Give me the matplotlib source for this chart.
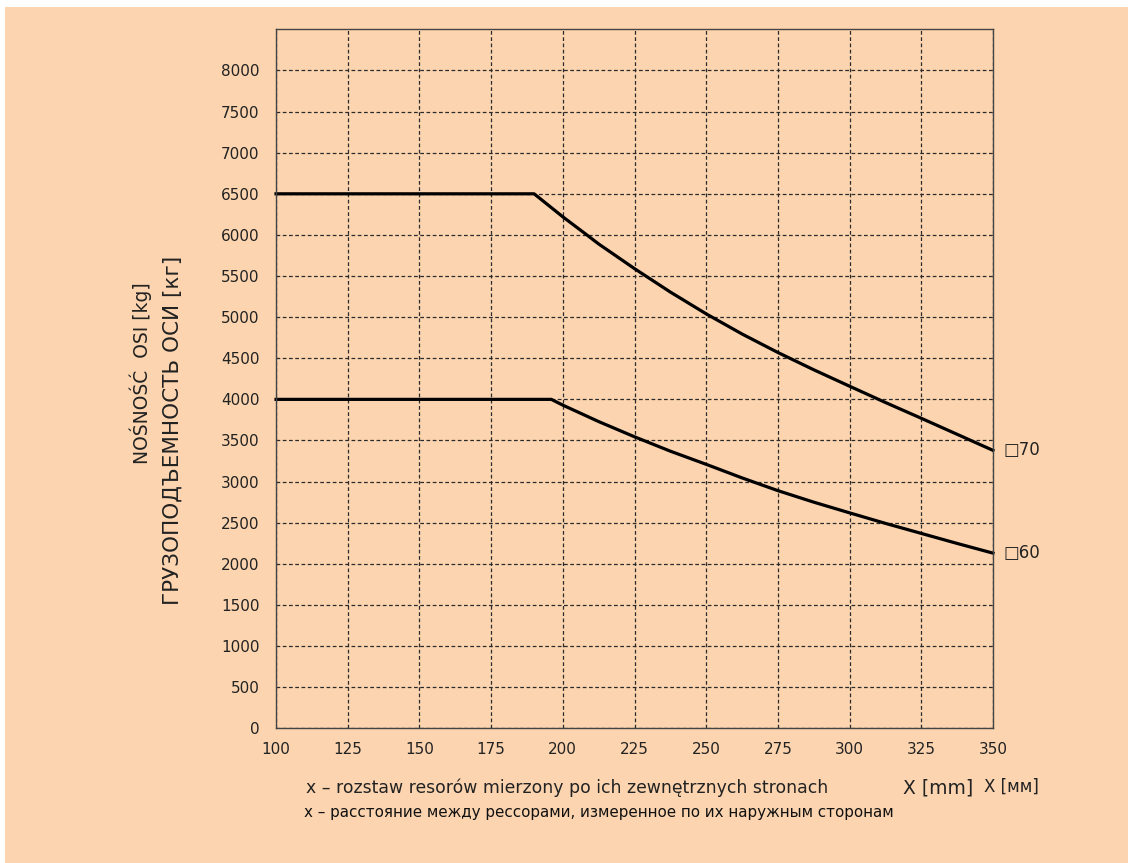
import matplotlib
matplotlib.use("Agg")
from matplotlib import pyplot as plt
from matplotlib.patches import Rectangle

# upper curve (70)
x70 = [100, 190, 200, 208, 212.5, 225, 237.5, 250, 262.5, 275, 287.5, 300, 312.5, 325, 337.5, 350]
y70 = [6500, 6500, 6220, 6010, 5890, 5590, 5305, 5040, 4795, 4570, 4360, 4160, 3962, 3770, 3575, 3380]

# lower curve (60)
x60 = [100, 196, 200, 212.5, 225, 237.5, 250, 262.5, 275, 287.5, 300, 312.5, 325, 337.5, 350]
y60 = [4000, 4000, 3930, 3730, 3545, 3370, 3210, 3045, 2890, 2750, 2620, 2492, 2370, 2248, 2130]

xticks = list(range(100, 351, 25))
yticks = list(range(0, 8001, 500))
labels = ["\u25a170", "\u25a160"]

bg = "#fcd5b0"
txt = "#222222"

fig = plt.figure(figsize=(11.28, 8.63), dpi=100)
fig.patch.set_facecolor("white")
fig.patches.append(Rectangle((5 / 1128, 0), 1, 1 - 7 / 863, transform=fig.transFigure,
                             facecolor=bg, edgecolor="none", zorder=-10))

ax = fig.add_axes([0.2447, 0.1561, 0.8803 - 0.2447, 0.966 - 0.1561])
ax.set_facecolor(bg)
ax.set_xlim(100, 350)
ax.set_ylim(0, 8500)
ax.set_xticks(xticks)
ax.set_yticks(yticks)
ax.tick_params(length=0, labelsize=11, labelcolor=txt)
ax.tick_params(axis="y", pad=12)
ax.tick_params(axis="x", pad=10)
ax.grid(True, color="#2a2a2a", linestyle=(0, (3, 2)), linewidth=0.9)
ax.set_axisbelow(True)
for s in ax.spines.values():
  s.set_color("#444444")
  s.set_linewidth(1.0)

ax.plot(x70, y70, color="black", lw=2.3, clip_on=False, solid_joinstyle="round")
ax.plot(x60, y60, color="black", lw=2.3, clip_on=False, solid_joinstyle="round")

# curve labels at right end
ax.text(353.5, y70[-1], labels[0], fontsize=12, color=txt, va="center", ha="left")
ax.text(353.5, y60[-1], labels[1], fontsize=12, color=txt, va="center", ha="left")

# y label, two lines
fig.text(141 / 1128, 1 - 373 / 863, "NOŚNOŚĆ  OSI [kg]", rotation=90, fontsize=13.5,
         color=txt, ha="center", va="center")
fig.text(173 / 1128, 1 - 430 / 863, "ГРУЗОПОДЪЕМНОСТЬ ОСИ [кг]", rotation=90, fontsize=15.5,
         color=txt, ha="center", va="center")

# x labels
fig.text(306 / 1128, 1 - 788 / 863, "x – rozstaw resorów mierzony po ich zewnętrznych stronach",
         fontsize=12.4, color=txt, ha="left", va="center")
fig.text(903 / 1128, 1 - 788 / 863, "X [mm]", fontsize=13.5, color=txt, ha="left", va="center")
fig.text(984 / 1128, 1 - 787 / 863, "X [мм]", fontsize=12, color=txt, ha="left", va="center")
fig.text(304 / 1128, 1 - 812 / 863, "x – расстояние между рессорами, измеренное по их наружным сторонам",
         fontsize=10.9, color="#111111", ha="left", va="center")

fig.savefig("out.png", dpi=100, facecolor=fig.get_facecolor())
